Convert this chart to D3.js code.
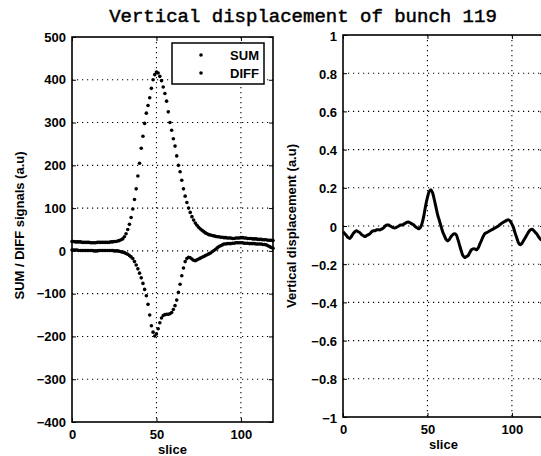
<!DOCTYPE html>
<html>
<head>
<meta charset="utf-8">
<script src="https://cdn.jsdelivr.net/npm/d3@7"></script>
<style>
  html, body { margin: 0; padding: 0; background: #fff; }
  svg { display: block; }
  text { fill: #000; }
</style>
</head>
<body>
<svg id="chart" width="541" height="456"></svg>
<script>
// ---------------- data ----------------
const titleText = "Vertical displacement of bunch 119";
const slices = d3.range(0, 120);           // slice index 0..119
const sumValues = [
  22,22,21,21,21,21,20,20,20,20,
  20,19,19,19,19,20,20,20,20,20,
  20,20,20,21,21,22,22,23,24,26,
  28,33,40,50,62,78,98,120,145,175,
  205,240,268,298,322,340,358,380,400,412,
  418,416,408,398,383,368,350,325,300,282,
  262,245,222,200,185,165,145,128,113,100,
  90,80,72,65,60,55,51,48,45,42,
  40,38,37,36,35,34,33,33,32,32,
  31,31,30,30,30,29,29,30,30,30,
  31,31,30,30,29,29,29,28,28,28,
  27,27,27,26,26,26,25,25,25,24
];
const diffValues = [
  2,2,2,2,1,1,1,1,1,1,
  1,1,1,0,0,0,1,1,1,1,
  1,1,1,1,1,0,0,0,-1,-2,
  -3,-4,-6,-8,-11,-14,-18,-25,-33,-42,
  -52,-63,-76,-90,-105,-125,-150,-175,-190,-199,
  -194,-182,-168,-157,-151,-149,-148,-148,-147,-144,
  -137,-128,-115,-97,-78,-58,-40,-25,-18,-15,
  -16,-19,-22,-23,-21,-19,-17,-15,-13,-11,
  -9,-7,-5,-2,1,4,7,10,12,14,
  16,16,17,17,17,18,18,19,19,19,
  19,19,18,18,18,17,17,17,17,16,
  16,16,16,15,15,14,12,10,8,6
];
const dispValues = [
  -0.03,-0.04,-0.05,-0.06,-0.065,-0.055,-0.04,-0.03,-0.025,-0.03,
  -0.035,-0.045,-0.05,-0.055,-0.05,-0.045,-0.04,-0.03,-0.025,-0.025,
  -0.02,-0.02,-0.02,-0.015,-0.01,0.0,0.005,0.005,0.0,-0.005,
  -0.01,-0.01,-0.005,0.0,0.005,0.005,0.01,0.015,0.02,0.02,
  0.015,0.01,0.005,-0.005,-0.01,-0.015,-0.005,0.02,0.06,0.11,
  0.15,0.18,0.19,0.175,0.14,0.1,0.06,0.03,0.0,-0.03,
  -0.05,-0.07,-0.078,-0.07,-0.055,-0.045,-0.04,-0.045,-0.07,-0.1,
  -0.13,-0.155,-0.165,-0.16,-0.155,-0.14,-0.125,-0.12,-0.12,-0.125,
  -0.115,-0.095,-0.075,-0.055,-0.04,-0.035,-0.03,-0.025,-0.02,-0.015,
  -0.01,-0.005,0.0,0.008,0.015,0.02,0.025,0.03,0.032,0.025,
  0.01,-0.01,-0.04,-0.065,-0.09,-0.098,-0.09,-0.075,-0.06,-0.045,
  -0.03,-0.02,-0.017,-0.025,-0.035,-0.045,-0.06,-0.07,-0.075,-0.08
];
const xTicks = [0, 50, 100];
const leftYTicks = [500, 400, 300, 200, 100, 0, -100, -200, -300, -400];
const rightYTicks = [1, 0.8, 0.6, 0.4, 0.2, 0, -0.2, -0.4, -0.6, -0.8, -1];
const legendLabels = ["SUM", "DIFF"];
const xLabel = "slice";
const leftYLabel = "SUM / DIFF signals (a.u)";
const rightYLabel = "Vertical displacement (a.u)";

// ---------------- drawing ----------------
const svg = d3.select("#chart");
const FONT = "'Liberation Sans', Arial, Helvetica, sans-serif";
const fmt = v => (v < 0 ? "\u2212" : "") + String(+Math.abs(v).toFixed(2));

function panel(box, yDomain, yTicks, yLabelShift) {
  const x = d3.scaleLinear().domain([0, 119]).range([box.left, box.right]);
  const y = d3.scaleLinear().domain(yDomain).range([box.bottom, box.top]);
  const g = svg.append("g");
  // grid
  const grid = g.append("g").attr("stroke", "#000").attr("stroke-width", 1.1)
    .attr("stroke-dasharray", "1.2,3.8");
  xTicks.filter(t => t > 0).forEach(t => grid.append("line")
    .attr("x1", x(t)).attr("x2", x(t)).attr("y1", box.top).attr("y2", box.bottom));
  yTicks.filter(t => t !== yDomain[0] && t !== yDomain[1]).forEach(t => grid.append("line")
    .attr("x1", box.left).attr("x2", box.right).attr("y1", y(t)).attr("y2", y(t)));
  // axes (inward ticks)
  const ax = g.append("g").attr("transform", `translate(0,${box.bottom})`)
    .call(d3.axisBottom(x).tickValues(xTicks).tickSize(-4).tickPadding(8).tickFormat(fmt));
  const ay = g.append("g").attr("transform", `translate(${box.left},0)`)
    .call(d3.axisLeft(y).tickValues(yTicks).tickSize(-4).tickPadding(6).tickFormat(fmt));
  const axT = g.append("g").attr("transform", `translate(0,${box.top})`)
    .call(d3.axisTop(x).tickValues(xTicks).tickSize(-4).tickFormat(""));
  const ayR = g.append("g").attr("transform", `translate(${box.right},0)`)
    .call(d3.axisRight(y).tickValues(yTicks).tickSize(-4).tickFormat(""));
  [ax, ay, axT, ayR].forEach(a => {
    a.select(".domain").remove();
    a.selectAll("line").attr("stroke", "#000").attr("stroke-width", 1);
    a.selectAll("text").attr("font-family", FONT).attr("font-size", 13)
      .attr("font-weight", "bold").attr("fill", "#000");
  });
  ay.selectAll("text").attr("y", yLabelShift || 0);
  // frame
  g.append("rect").attr("x", box.left).attr("y", box.top)
    .attr("width", box.right - box.left).attr("height", box.bottom - box.top)
    .attr("fill", "none").attr("stroke", "#000").attr("stroke-width", 1.6);
  // x label
  g.append("text").attr("x", (box.left + box.right) / 2).attr("y", box.bottom + 32)
    .attr("text-anchor", "middle").attr("font-family", FONT).attr("font-size", 13)
    .attr("font-weight", "bold").text(xLabel);
  return { x, y, g };
}

// Left panel
const L = panel({ left: 72, right: 273, top: 37, bottom: 422 }, [-400, 500], leftYTicks, 0);
L.g.append("text")
  .attr("transform", `translate(24,${(37 + 422) / 2 - 4}) rotate(-90)`)
  .attr("text-anchor", "middle").attr("font-family", FONT).attr("font-size", 13)
  .attr("font-weight", "bold").text(leftYLabel);

const dots = L.g.append("g").attr("fill", "#000");
dots.selectAll("circle.sum").data(slices).join("circle").attr("class", "sum")
  .attr("cx", d => L.x(d)).attr("cy", d => L.y(sumValues[d])).attr("r", 1.8);
dots.selectAll("circle.diff").data(slices).join("circle").attr("class", "diff")
  .attr("cx", d => L.x(d)).attr("cy", d => L.y(diffValues[d])).attr("r", 1.8);

// legend
const lg = L.g.append("g");
lg.append("rect").attr("x", 172).attr("y", 43).attr("width", 92).attr("height", 41)
  .attr("fill", "#fff").attr("stroke", "#000").attr("stroke-width", 1.5);
legendLabels.forEach((lab, i) => {
  const yy = 55 + i * 18;
  lg.append("circle").attr("cx", 201).attr("cy", yy).attr("r", 1.8).attr("fill", "#000");
  lg.append("text").attr("x", 259).attr("y", yy + 5).attr("text-anchor", "end")
    .attr("font-family", FONT).attr("font-size", 13).attr("font-weight", "bold").text(lab);
});

// Right panel
const R = panel({ left: 343, right: 544, top: 35, bottom: 417 }, [-1, 1], rightYTicks, 1);
R.g.append("text")
  .attr("transform", `translate(296,${(35 + 417) / 2}) rotate(-90)`)
  .attr("text-anchor", "middle").attr("font-family", FONT).attr("font-size", 13)
  .attr("font-weight", "bold").text(rightYLabel);
R.g.append("path").datum(slices)
  .attr("d", d3.line().x(d => R.x(d)).y(d => R.y(dispValues[d])).curve(d3.curveCatmullRom))
  .attr("fill", "none").attr("stroke", "#000").attr("stroke-width", 3).attr("stroke-linejoin", "round");

// Title
svg.append("text").attr("x", 303).attr("y", 22).attr("text-anchor", "middle")
  .attr("font-family", "'Liberation Mono', 'Courier New', monospace").attr("font-size", 19)
  .attr("stroke", "#000").attr("stroke-width", 0.5)
  .text(titleText);
</script>
</body>
</html>
